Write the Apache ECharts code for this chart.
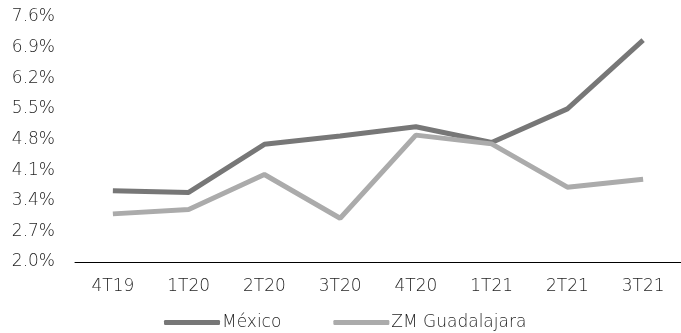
<!DOCTYPE html>
<html><head><meta charset="utf-8">
<script src="https://cdn.jsdelivr.net/npm/echarts@6/dist/echarts.min.js"></script>
<style>html,body{margin:0;padding:0;background:#fff}#c{width:681px;height:333px}</style>
</head><body><div id="c"></div>
<script>
var categories = ['4T19','1T20','2T20','3T20','4T20','1T21','2T21','3T21'];
var mexico = [3.63, 3.59, 4.69, 4.88, 5.09, 4.73, 5.50, 7.07];
var guadalajara = [3.10, 3.20, 4.00, 3.00, 4.90, 4.70, 3.71, 3.89];
var seriesNames = ['México', 'ZM Guadalajara'];
var yMin = 2.0, yMax = 7.6, yStep = 0.7;

var chart = echarts.init(document.getElementById('c'), null, {renderer:'canvas'});
var font = '"DejaVu Sans"';
var txt = '#1e1e1e';
var fw = 200;
chart.setOption({
  animation: false,
  backgroundColor: '#fff',
  grid: {left: 75, right: -4, top: 17, bottom: 71, containLabel: false},
  legend: {
    top: 309, left: 159,
    icon: 'roundRect', itemWidth: 56, itemHeight: 5, itemGap: 52,
    textStyle: {fontFamily: font, fontWeight: fw, fontSize: 17, color: txt, padding: [0,0,0,-3]},
    data: seriesNames
  },
  xAxis: {
    type: 'category', data: categories, boundaryGap: true,
    axisLine: {lineStyle: {color: '#000', width: 1}},
    axisTick: {show: false},
    axisLabel: {fontFamily: font, fontWeight: fw, fontSize: 17, color: txt, margin: 16}
  },
  yAxis: {
    type: 'value', min: yMin, max: yMax, interval: yStep,
    axisLine: {show: false}, axisTick: {show: false}, splitLine: {show: false},
    axisLabel: {fontFamily: font, fontWeight: fw, fontSize: 17, color: txt, margin: 20,
      formatter: function(v){ return v.toFixed(1) + '%'; }}
  },
  series: [
    {name: seriesNames[0], type: 'line', data: mexico, symbol: 'none',
     lineStyle: {color: '#777', width: 5}, itemStyle: {color: '#777'}},
    {name: seriesNames[1], type: 'line', data: guadalajara, symbol: 'none',
     lineStyle: {color: '#ababab', width: 5}, itemStyle: {color: '#ababab'}}
  ]
});
</script></body></html>
